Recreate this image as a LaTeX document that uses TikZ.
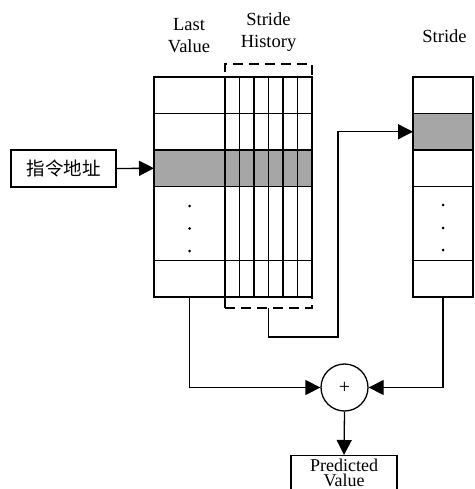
\documentclass[tikz,border=0pt]{standalone}
\usepackage{fontspec}
\setmainfont{Liberation Serif}
\newfontfamily\cjk{Noto Sans CJK SC}
\usetikzlibrary{arrows.meta,calc,positioning}
\tikzset{>={Triangle[length=15pt,width=15pt]},every node/.style={font=\fontsize{18.5}{21.5}\selectfont},
 flow/.style={line width=1.3pt,->},edge/.style={line width=1.3pt},
 cell/.style={draw,line width=1.3pt,minimum width=71pt,minimum height=36.5pt,inner sep=0pt,outer sep=0pt},
 scell/.style={cell,minimum width=60pt},hot/.style={fill=black!35},
 lbl/.style={align=center,inner sep=0pt}}

\begin{document}
\begin{tikzpicture}[x=1pt,y=-1pt]
\useasboundingbox (0,0) rectangle (474,489);\clip (0,0) rectangle (474,489);
% last value column
\node[cell] (lv1) at (189.5,95.25){};\node[cell,below=0pt of lv1] (lv2){};\node[cell,hot,below=0pt of lv2] (lv3){};
\node[cell,minimum height=74pt,below=0pt of lv3] (lv4){};\node[cell,below=0pt of lv4] (lv5){};
\foreach \y in {206,228.5,251} \fill (lv4.center|-0,\y) circle(1.5pt);
% stride history
\fill[black!35] (lv3.north east) rectangle ($(lv3.south east)+(87,0)$);
\node[draw,edge,minimum width=87pt,minimum height=220pt,inner sep=0pt,outer sep=0pt,anchor=north west] (hist) at (lv1.north east){};
\foreach \x in {14.5,29,43.5,58,72.5} \draw[edge] ($(hist.north west)+(\x,0)$)--($(hist.south west)+(\x,0)$);
\foreach \r in {lv1,lv2,lv3,lv4} \draw[edge] (\r.south east)--($(\r.south east)+(87,0)$);
\draw[edge] (hist.south west)--++(0,11);
\node[draw,edge,dash pattern=on 10pt off 6pt,minimum width=87pt,minimum height=244pt,inner sep=0pt,outer sep=0pt,anchor=south west] (hbox) at (225,308){};
% stride column
\node[scell] (rs1) at (443,95.25){};\node[scell,hot,below=0pt of rs1] (rs2){};\node[scell,below=0pt of rs2] (rs3){};
\node[scell,minimum height=74pt,below=0pt of rs3] (rs4){};\node[scell,below=0pt of rs4] (rs5){};
\foreach \y in {205,228,250} \fill (rs4.center|-0,\y) circle(1.5pt);
% labels
\node[lbl] (lvlab) at (189,35.5){Last\\Value};\node[lbl] (hlab) at (268.5,32){Stride\\History};
\node[lbl,anchor=base] (slab) at (444.5,42.3){Stride};
% address, adder, output
\node[draw,edge,minimum width=105pt,minimum height=37pt,inner sep=0pt] (addr) at (63.5,168.5){\cjk 指令地址};
\node[circle,draw,edge,minimum size=47pt,inner sep=0pt,font=\fontsize{20}{20}\selectfont] (plus) at (344.5,387.5){+};
\node[draw,edge,lbl,minimum width=106pt,minimum height=34pt,anchor=north,font=\fontsize{18}{15}\selectfont] (pred) at (344,455){Predicted\\Value};
\coordinate (turn) at (338,337);
\draw[flow] (addr.east)--(lv3.west);
\draw[flow] (hbox.south) |- (turn) |- (rs2.west);
\draw[flow] (lv5.south) |- (plus.west);\draw[flow] (rs5.south) |- (plus.east);
\draw[flow] (plus.south)--(pred.north);
\end{tikzpicture}
\end{document}
